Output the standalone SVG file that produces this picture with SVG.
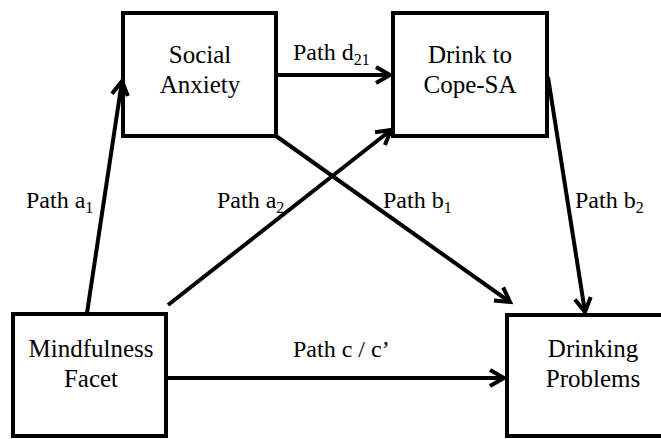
<svg xmlns="http://www.w3.org/2000/svg" width="661" height="439" viewBox="0 0 661 439">
<style>
.box{fill:#fff;stroke:#000;stroke-width:4}
.t{font-size:25px;fill:#000;text-anchor:middle}
.l{font-size:24px;fill:#000}
.s{font-size:16px}
.c{stroke:#000;stroke-width:4;fill:none}
</style>
<defs>
<marker id="ah" markerUnits="userSpaceOnUse" viewBox="0 0 20 20" markerWidth="20" markerHeight="20" refX="17" refY="10" orient="auto" overflow="visible">
<path d="M3,2 L17,10 L3,18" fill="none" stroke="#000" stroke-width="4"/>
</marker>
</defs>
<rect width="661" height="439" fill="#fff"/>
<g font-family="Liberation Serif, DejaVu Serif, serif">
<g id="social-anxiety">
<rect class="box" x="123" y="13" width="153" height="123"/>
<text class="t" x="200" y="63">Social</text>
<text class="t" x="200" y="93">Anxiety</text>
</g>
<g id="drink-to-cope">
<rect class="box" x="393" y="13" width="154" height="123"/>
<text class="t" x="470" y="63">Drink to</text>
<text class="t" x="470" y="93">Cope-SA</text>
</g>
<g id="mindfulness">
<rect class="box" x="13" y="314" width="153" height="122"/>
<text class="t" x="91" y="357">Mindfulness</text>
<text class="t" x="91" y="387">Facet</text>
</g>
<g id="drinking-problems">
<rect class="box" x="507" y="315" width="160" height="121"/>
<text class="t" x="593" y="357">Drinking</text>
<text class="t" x="593" y="387">Problems</text>
</g>
<g id="connectors">
<line class="c" x1="87" y1="313" x2="122" y2="81" marker-end="url(#ah)"/>
<line class="c" x1="168" y1="305" x2="391" y2="130" marker-end="url(#ah)"/>
<line class="c" x1="276" y1="75" x2="390" y2="75" marker-end="url(#ah)"/>
<line class="c" x1="276" y1="136" x2="510" y2="302" marker-end="url(#ah)"/>
<line class="c" x1="548" y1="77" x2="585" y2="312" marker-end="url(#ah)"/>
<line class="c" x1="166" y1="378" x2="504" y2="378" marker-end="url(#ah)"/>
</g>
<g id="labels">
<text class="l" x="26" y="208">Path a<tspan class="s" dy="5">1</tspan></text>
<text class="l" x="217" y="208">Path a<tspan class="s" dy="5">2</tspan></text>
<text class="l" x="293" y="60">Path d<tspan class="s" dy="5">21</tspan></text>
<text class="l" x="383" y="208">Path b<tspan class="s" dy="5">1</tspan></text>
<text class="l" x="575" y="208">Path b<tspan class="s" dy="5">2</tspan></text>
<text class="l" x="293" y="357">Path c / c’</text>
</g>
</g>
</svg>
